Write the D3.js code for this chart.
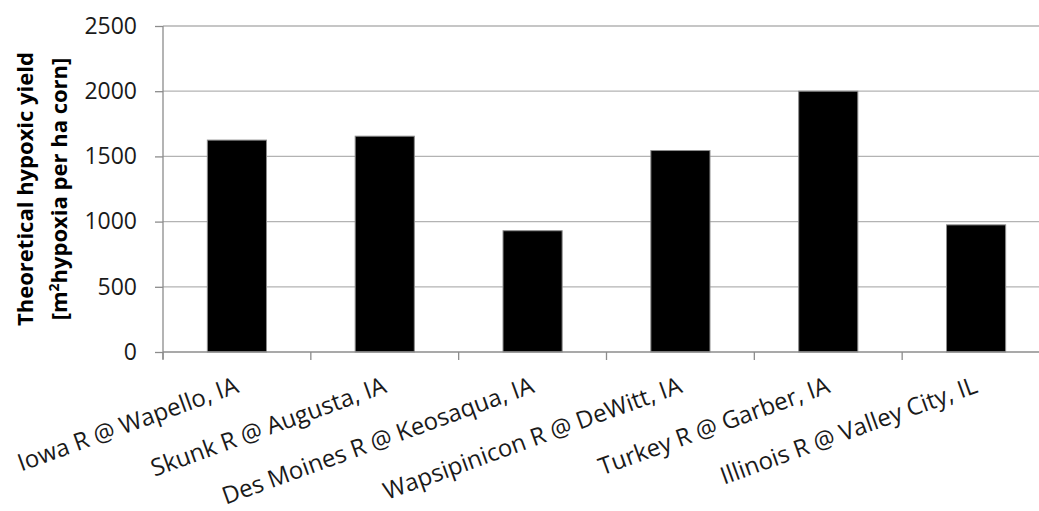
<!DOCTYPE html>
<html>
<head>
<meta charset="utf-8">
<script src="https://cdn.jsdelivr.net/npm/d3@7"></script>
<style>
  body { margin: 0; background: #fff; }
  svg { display: block; }
  .tick text { font-family: "Open Sans", sans-serif; fill: #1a1a1a; }
</style>
</head>
<body>
<svg id="chart" width="1039" height="511"></svg>
<script>
// gauging sites and the theoretical hypoxic yield
var sites = [
    "Iowa R @ Wapello, IA",
    "Skunk R @ Augusta, IA",
    "Des Moines R @ Keosaqua, IA",
    "Wapsipinicon R @ DeWitt, IA",
    "Turkey R @ Garber, IA",
    "Illinois R @ Valley City, IL"
];
var hypoxicYield = [1625, 1655, 930, 1545, 2000, 975];
var yTicks = [0, 500, 1000, 1500, 2000, 2500];

var svg = d3.select("#chart");
var margin = {left: 163, top: 26, bottom: 352};
var plotRight = 1050; // the chart runs off the right edge of the picture

var x = d3.scaleBand()
    .domain(sites)
    .range([margin.left, plotRight])
    .paddingInner(0.6)
    .paddingOuter(0.3);

var y = d3.scaleLinear()
    .domain([0, 2500])
    .range([margin.bottom, margin.top]);

// horizontal gridlines
svg.append("g")
    .selectAll("line")
    .data(yTicks.slice(1))
    .enter()
    .append("line")
    .attr("x1", margin.left)
    .attr("x2", plotRight)
    .attr("y1", d => y(d))
    .attr("y2", d => y(d))
    .attr("stroke", "#b3b3b3")
    .attr("stroke-width", 1.3);

// y axis
var yAxis = svg.append("g")
    .attr("transform", "translate(" + margin.left + ",0)")
    .call(d3.axisLeft(y).tickValues(yTicks).tickFormat(d3.format("d")).tickSize(8).tickPadding(18));
yAxis.selectAll("line, path").attr("stroke", "#8c8c8c").attr("stroke-width", 1.3);
yAxis.select(".domain").attr("d", "M0," + margin.top + "V" + (margin.bottom + 7));
yAxis.selectAll("text").attr("font-size", 23);

// bars
svg.append("g")
    .selectAll("rect")
    .data(hypoxicYield)
    .enter()
    .append("rect")
    .attr("x", (d, i) => x(sites[i]))
    .attr("y", d => y(d))
    .attr("width", x.bandwidth())
    .attr("height", d => y(0) - y(d))
    .attr("fill", "#000")
    .attr("stroke", "#8c8c8c")
    .attr("stroke-width", 1);

// x axis: ticks sit between categories
var step = x.step();
var xAxis = svg.append("g");
xAxis.append("line")
    .attr("x1", margin.left)
    .attr("x2", plotRight)
    .attr("y1", y(0))
    .attr("y2", y(0))
    .attr("stroke", "#8c8c8c")
    .attr("stroke-width", 1.3);
xAxis.selectAll("line.tick")
    .data(sites)
    .enter()
    .append("line")
    .attr("class", "tick")
    .attr("x1", (d, i) => margin.left + i * step)
    .attr("x2", (d, i) => margin.left + i * step)
    .attr("y1", y(0))
    .attr("y2", y(0) + 8)
    .attr("stroke", "#8c8c8c")
    .attr("stroke-width", 1.3);

xAxis.selectAll("text")
    .data(sites)
    .enter()
    .append("text")
    .attr("transform", d => "translate(" + (x(d) + x.bandwidth() / 2 + 3) + "," + (y(0) + 40) + ") rotate(-20)")
    .attr("text-anchor", "end")
    .attr("font-family", "'Open Sans', sans-serif")
    .attr("font-size", 24)
    .attr("fill", "#1a1a1a")
    .text(d => d);

// y axis title, two lines
var title = svg.append("text")
    .attr("transform", "translate(0," + ((margin.top + margin.bottom) / 2) + ") rotate(-90)")
    .attr("text-anchor", "middle")
    .attr("font-family", "'Open Sans', sans-serif")
    .attr("font-weight", "bold")
    .attr("font-size", 22)
    .attr("fill", "#000");
title.append("tspan")
    .attr("x", 0)
    .attr("y", 33)
    .text("Theoretical hypoxic yield");
var line2 = title.append("tspan")
    .attr("x", 0)
    .attr("y", 67);
line2.append("tspan").text("[m");
line2.append("tspan").attr("font-size", 14).attr("dy", -8).text("2");
line2.append("tspan").attr("dy", 8).text("hypoxia per ha corn]");
</script>
</body>
</html>
